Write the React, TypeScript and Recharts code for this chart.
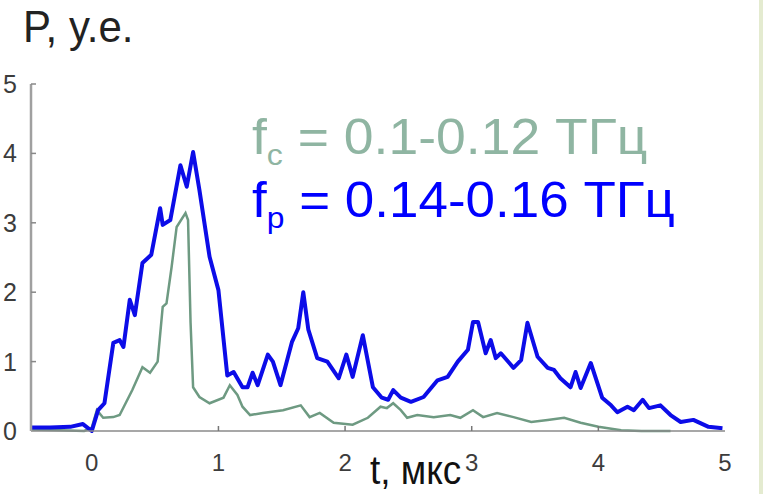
import { LineChart, Line, XAxis, YAxis } from 'recharts';

// time, µs and power, a.u. for the two bands
const BLUE_T = [
  -0.48, -0.33, -0.17, -0.07, 0.0, 0.05, 0.1, 0.17, 0.22, 0.25, 0.3, 0.34, 0.4, 0.47, 0.54, 0.56, 0.62,
  0.7, 0.75, 0.8, 0.85, 0.93, 1.0, 1.07, 1.12, 1.19, 1.23, 1.27, 1.31, 1.39, 1.43, 1.49, 1.58, 1.63,
  1.67, 1.71, 1.78, 1.86, 1.95, 2.01, 2.06, 2.14, 2.22, 2.29, 2.34, 2.38, 2.44, 2.52, 2.62, 2.73, 2.81,
  2.89, 2.97, 3.01, 3.05, 3.11, 3.15, 3.19, 3.23, 3.33, 3.39, 3.44, 3.52, 3.6, 3.65, 3.7, 3.78, 3.82,
  3.86, 3.94, 4.03, 4.1, 4.15, 4.23, 4.28, 4.35, 4.4, 4.49, 4.57, 4.65, 4.75, 4.87, 4.98,
];
const BLUE_P = [
  0.05, 0.05, 0.06, 0.1, 0.0, 0.3, 0.4, 1.27, 1.31, 1.21, 1.89, 1.67, 2.42, 2.54, 3.21, 2.97, 3.04,
  3.83, 3.52, 4.02, 3.47, 2.51, 2.03, 0.8, 0.85, 0.63, 0.63, 0.84, 0.66, 1.1, 1.0, 0.66, 1.28, 1.48,
  2.0, 1.46, 1.05, 1.0, 0.76, 1.1, 0.78, 1.38, 0.63, 0.48, 0.45, 0.59, 0.48, 0.42, 0.49, 0.73, 0.78,
  1.0, 1.17, 1.57, 1.57, 1.12, 1.31, 1.05, 1.12, 0.91, 1.02, 1.56, 1.07, 0.91, 0.88, 0.76, 0.63, 0.85,
  0.62, 0.98, 0.48, 0.37, 0.27, 0.35, 0.3, 0.45, 0.33, 0.37, 0.23, 0.13, 0.16, 0.06, 0.04,
];

const GREEN_T = [
  -0.48, -0.25, -0.06, 0.0, 0.04, 0.09, 0.17, 0.22, 0.32, 0.4, 0.46, 0.52, 0.56, 0.59, 0.63, 0.67, 0.74,
  0.76, 0.78, 0.8, 0.85, 0.93, 1.04, 1.09, 1.15, 1.19, 1.25, 1.35, 1.51, 1.65, 1.72, 1.8, 1.91, 2.06,
  2.18, 2.28, 2.33, 2.38, 2.44, 2.49, 2.57, 2.7, 2.83, 2.91, 3.01, 3.09, 3.2, 3.33, 3.47, 3.6, 3.73,
  3.86, 4.0, 4.18, 4.34, 4.57,
];
const GREEN_P = [
  0.02, 0.01, 0.0, 0.05, 0.3, 0.19, 0.2, 0.23, 0.59, 0.92, 0.84, 1.0, 1.79, 1.84, 2.36, 2.94, 3.14,
  3.04, 1.56, 0.63, 0.49, 0.4, 0.48, 0.66, 0.52, 0.35, 0.23, 0.26, 0.3, 0.37, 0.2, 0.26, 0.12, 0.09,
  0.19, 0.35, 0.33, 0.4, 0.3, 0.19, 0.23, 0.2, 0.23, 0.19, 0.3, 0.2, 0.26, 0.2, 0.13, 0.16, 0.19,
  0.12, 0.06, 0.01, 0.0, 0.0,
];

const X_TICKS = [0, 1, 2, 3, 4, 5];
const Y_TICKS = [0, 1, 2, 3, 4, 5];

const blueData = BLUE_T.map((t, i) => ({ t, p: BLUE_P[i] }));
const greenData = GREEN_T.map((t, i) => ({ t, p: GREEN_P[i] }));

const FONT = '"Liberation Sans", Arial, sans-serif';
const W = 763;
const H = 494;

function XTick({ x, y, payload }: any) {
  return (
    <g>
      {payload.value > 0 && payload.value < 5 && (
        <line x1={x} x2={x} y1={y} y2={y - 5} stroke="#777" strokeWidth={1.5} />
      )}
      <text x={x} y={y + 40} textAnchor="middle" fontSize={24} fill="#3c3c3c" fontFamily={FONT}>
        {payload.value}
      </text>
    </g>
  );
}

function YTick({ x, y, payload }: any) {
  return (
    <g>
      {payload.value > 0 && (
        <line x1={x} x2={x + 5} y1={y} y2={y} stroke="#888" strokeWidth={1.5} />
      )}
      <text x={x - 14} y={y + 9} textAnchor="end" fontSize={25} fill="#3c3c3c" fontFamily={FONT}>
        {payload.value}
      </text>
    </g>
  );
}

export default function App() {
  return (
    <div style={{ position: 'fixed', left: 0, top: 0, width: W, height: H, background: '#fff' }}>
      <LineChart width={W} height={H} margin={{ top: 84, right: 38, bottom: 0, left: 0 }}>
        <XAxis
          type="number"
          dataKey="t"
          domain={[-0.48, 5]}
          ticks={X_TICKS}
          allowDataOverflow
          height={63}
          tickSize={0}
          tickMargin={0}
          axisLine={{ stroke: '#8a8a8a', strokeWidth: 1.5 }}
          tick={<XTick />}
        />
        <YAxis
          type="number"
          domain={[0, 5]}
          ticks={Y_TICKS}
          width={31}
          tickSize={0}
          tickMargin={0}
          axisLine={{ stroke: '#a0a0a0', strokeWidth: 2.5 }}
          tick={<YTick />}
        />
        <Line
          data={greenData}
          dataKey="p"
          type="linear"
          stroke="#6e9a82"
          strokeWidth={2.5}
          dot={false}
          isAnimationActive={false}
        />
        <Line
          data={blueData}
          dataKey="p"
          type="linear"
          stroke="#0c0ce8"
          strokeWidth={4}
          strokeLinejoin="round"
          dot={false}
          isAnimationActive={false}
        />
      </LineChart>
      <svg
        width={W}
        height={H}
        style={{ position: 'absolute', left: 0, top: 0, pointerEvents: 'none' }}
        fontFamily={FONT}
      >
        <text transform="translate(23,42) scale(1.05,1.12)" fontSize={40} fill="#222">
          P, y.e.
        </text>
        <text transform="translate(370,484) scale(1,1.1)" fontSize={37} fill="#111">
          t, мкс
        </text>
        <text transform="translate(252,154) scale(1.07,1)" fontSize={50} fill="#8fb5a2">
          f<tspan fontSize={30} dy={11}>c</tspan>
          <tspan dy={-11}> = 0.1-0.12 ТГц</tspan>
        </text>
        <text transform="translate(252,217) scale(1.06,1)" fontSize={50} fill="#0000ff">
          f<tspan fontSize={30} dy={11}>p</tspan>
          <tspan dy={-11}> = 0.14-0.16 ТГц</tspan>
        </text>
        <rect x={759} y={0} width={4} height={H} fill="#e4ebd0" />
      </svg>
    </div>
  );
}
